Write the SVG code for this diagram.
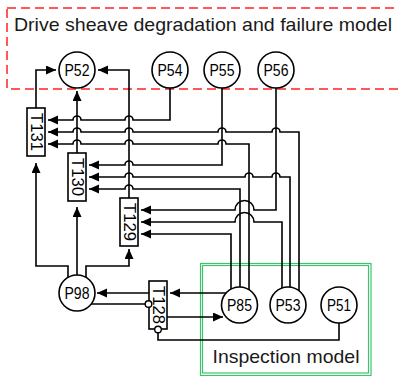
<svg xmlns="http://www.w3.org/2000/svg" width="398" height="376" viewBox="0 0 398 376">
<style>
.bg{fill:#fff}
.place{fill:#fff;stroke:#000;stroke-width:1.6}
.trans{fill:#fff;stroke:#000;stroke-width:1.6}
.lbl{font-family:"Liberation Sans",Arial,sans-serif;font-size:16px;fill:#000;text-anchor:middle}
.tl{font-family:"Liberation Sans",Arial,sans-serif;font-size:16px;fill:#000;text-anchor:middle;dominant-baseline:central}
.title{font-family:"Liberation Sans",Arial,sans-serif;font-size:18.5px;fill:#1a1a1a}
.arc{fill:none;stroke:#000;stroke-width:1.6}
.arr{marker-end:url(#ah)}
.inh{fill:#fff;stroke:#000;stroke-width:1.4}
</style>
<defs>
<marker id="ah" markerUnits="userSpaceOnUse" markerWidth="11" markerHeight="10" refX="10" refY="4.5" orient="auto">
<path d="M0,0 L10,4.5 L0,9 z" fill="#000"/>
</marker>
</defs>
<rect class="bg" x="0" y="0" width="398" height="376"/>
<g id="fault-model">
<rect x="7" y="8" width="400" height="81" fill="none" stroke="#f22" stroke-width="1.5" stroke-dasharray="9,5"/>
<text class="title" x="14" y="31" textLength="378" lengthAdjust="spacingAndGlyphs">Drive sheave degradation and failure model</text>
</g>
<g id="inspection-model">
<rect x="200.5" y="263.5" width="170.5" height="112" fill="none" stroke="#3cc36e" stroke-width="1.2"/>
<rect x="202.5" y="265.5" width="166" height="107.5" fill="none" stroke="#3cc36e" stroke-width="1.2"/>
<text class="title" x="212.5" y="363" textLength="147" lengthAdjust="spacingAndGlyphs">Inspection model</text>
</g>
<g id="connectors">
<path class="arc arr" d="M36,108 V70 H56"/>
<path class="arc arr" d="M77,153 V91"/>
<path class="arc arr" d="M129,198 V70 H98"/>
<path class="arc arr" d="M170,88 V120 H133 A4,4 0 0 0 125,120 H81 A4,4 0 0 0 73,120 H48"/>
<path class="arc arr" d="M299,291 V132 H280 A4,4 0 0 0 272,132 H226 A4,4 0 0 0 218,132 H133 A4,4 0 0 0 125,132 H81 A4,4 0 0 0 73,132 H48"/>
<path class="arc arr" d="M249,290 V144 H226 A4,4 0 0 0 218,144 H133 A4,4 0 0 0 125,144 H81 A4,4 0 0 0 73,144 H48"/>
<path class="arc arr" d="M222,88 V165 H133 A4,4 0 0 0 125,165 H89"/>
<path class="arc arr" d="M290,287 V177 H280 A4,4 0 0 0 272,177 H253 A4,4 0 0 0 245,177 H133 A4,4 0 0 0 125,177 H89"/>
<path class="arc arr" d="M240,287 V189 H133 A4,4 0 0 0 125,189 H89"/>
<path class="arc arr" d="M276,88 V210 H254 A9.5,9.5 0 0 0 235,210 H141"/>
<path class="arc arr" d="M282,288 V222 H254 A9.5,9.5 0 0 0 235,222 H141"/>
<path class="arc arr" d="M231,289 V234 H141"/>
<path class="arc arr" d="M68,277 V266 H36 V163"/>
<path class="arc arr" d="M77,275 V207"/>
<path class="arc arr" d="M86,278 V266 H129 V249"/>
<path class="arc arr" d="M149,293 H97"/>
<path class="arc" d="M91,304 H145"/>
<path class="arc arr" d="M226,293 H170"/>
<path class="arc arr" d="M167,317 H223"/>
<path class="arc" d="M339,323 V340 H158 V333"/>
</g>
<g id="P52"><circle class="place" cx="77" cy="70" r="18"/><text class="lbl" x="77" y="75.7" textLength="25" lengthAdjust="spacingAndGlyphs">P52</text></g>
<g id="P54"><circle class="place" cx="170" cy="70" r="18"/><text class="lbl" x="170" y="75.7" textLength="25" lengthAdjust="spacingAndGlyphs">P54</text></g>
<g id="P55"><circle class="place" cx="222" cy="70" r="18"/><text class="lbl" x="222" y="75.7" textLength="25" lengthAdjust="spacingAndGlyphs">P55</text></g>
<g id="P56"><circle class="place" cx="276" cy="70" r="18"/><text class="lbl" x="276" y="75.7" textLength="25" lengthAdjust="spacingAndGlyphs">P56</text></g>
<g id="P98"><circle class="place" cx="77" cy="293" r="18"/><text class="lbl" x="77" y="298.7" textLength="25" lengthAdjust="spacingAndGlyphs">P98</text></g>
<g id="P85"><circle class="place" cx="239.5" cy="305" r="18"/><text class="lbl" x="239.5" y="310.7" textLength="25" lengthAdjust="spacingAndGlyphs">P85</text></g>
<g id="P53"><circle class="place" cx="288" cy="305" r="18"/><text class="lbl" x="288" y="310.7" textLength="25" lengthAdjust="spacingAndGlyphs">P53</text></g>
<g id="P51"><circle class="place" cx="339" cy="305" r="18"/><text class="lbl" x="339" y="310.7" textLength="24" lengthAdjust="spacingAndGlyphs">P51</text></g>
<g id="T131"><rect class="trans" x="27" y="108" width="18" height="48"/><text class="tl" transform="translate(36,132) rotate(90)" textLength="38" lengthAdjust="spacingAndGlyphs">T131</text></g>
<g id="T130"><rect class="trans" x="68" y="153" width="18" height="48"/><text class="tl" transform="translate(77,177) rotate(90)" textLength="38" lengthAdjust="spacingAndGlyphs">T130</text></g>
<g id="T129"><rect class="trans" x="120" y="198" width="18" height="48"/><text class="tl" transform="translate(129,222) rotate(90)" textLength="38" lengthAdjust="spacingAndGlyphs">T129</text></g>
<g id="T128"><rect class="trans" x="149" y="281" width="18" height="48"/><text class="tl" transform="translate(158,305) rotate(90)" textLength="38" lengthAdjust="spacingAndGlyphs">T128</text>
<circle class="inh" cx="148.5" cy="304" r="3.3"/><circle class="inh" cx="158" cy="329.5" r="3.3"/></g>
</svg>
